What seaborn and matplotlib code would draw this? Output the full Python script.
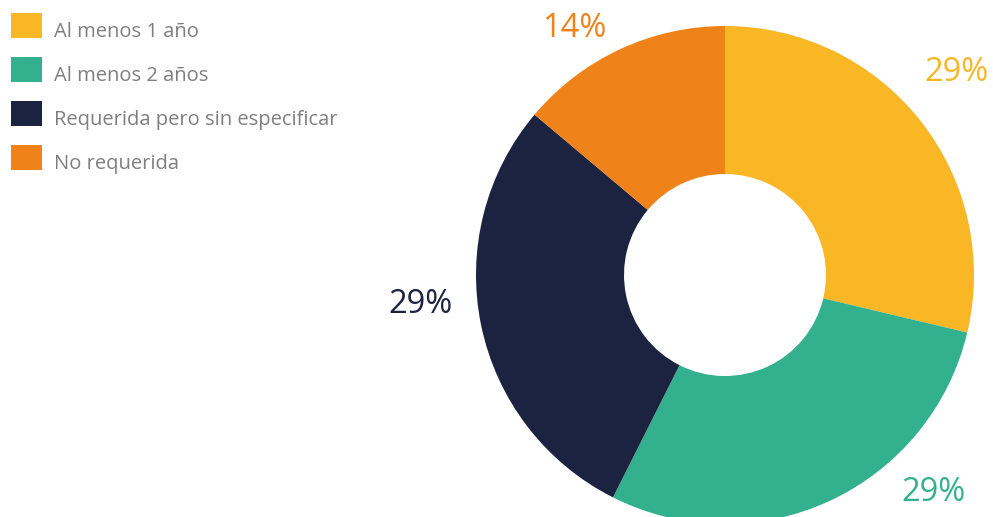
import numpy as np
import matplotlib
matplotlib.use("Agg")
import matplotlib.pyplot as plt
from matplotlib.patches import Rectangle
import seaborn as sns

# Share of job postings by experience requirement
categories = ["Al menos 1 año", "Al menos 2 años", "Requerida pero sin especificar", "No requerida"]
values = [29, 29, 29, 14]
pct_labels = ["29%", "29%", "29%", "14%"]
colors = ["#F9B625", "#33B18F", "#1B2340", "#F0821A"]

sns.set_theme(style="white")
plt.rcParams["font.family"] = ["Open Sans", "DejaVu Sans"]

W, H = 993, 517
fig = plt.figure(figsize=(W / 100, H / 100), dpi=100)
ax = fig.add_axes([0, 0, 1, 1])

# axes in pixel units, donut centred at (cx, cy) measured from top-left
cx, cy = 725, 275
r_out, r_in = 249, 101

palette = sns.color_palette(colors)
wedges, _ = ax.pie(
    values,
    colors=palette,
    startangle=90,
    counterclock=False,
    radius=r_out,
    wedgeprops=dict(width=r_out - r_in, linewidth=0),
)
ax.set_xlim(-cx, W - cx)
ax.set_ylim(-(H - cy), cy)
ax.set_aspect("equal")
ax.axis("off")

# percentage labels around the ring, shifted off the slice midpoints
angle_shift = [3.3, 19.2, -6.6, 6.2]
label_r = [309, 299, 306, 292]
digit_half = 11.7
for w, txt, col, da, r in zip(wedges, pct_labels, colors, angle_shift, label_r):
    mid = np.deg2rad((w.theta1 + w.theta2) / 2 + da)
    ax.text(r * np.cos(mid), r * np.sin(mid) - digit_half, txt,
            color=col, fontsize=23.5, ha="center", va="baseline")

# legend: coloured squares with grey captions, laid out in pixel units
to_fig = lambda x, y: (x / W, 1 - y / H)
row_top = 13
for cat, col in zip(categories, colors):
    x0, y0 = to_fig(11, row_top + 25)
    fig.add_artist(Rectangle((x0, y0), 31 / W, 25 / H, transform=fig.transFigure,
                             facecolor=col, edgecolor="none"))
    tx, ty = to_fig(54, row_top + 23.7)
    fig.text(tx, ty, cat, color="#7F7F7F", fontsize=14.5, ha="left", va="baseline")
    row_top += 44

fig.savefig("out.png", dpi=100)
